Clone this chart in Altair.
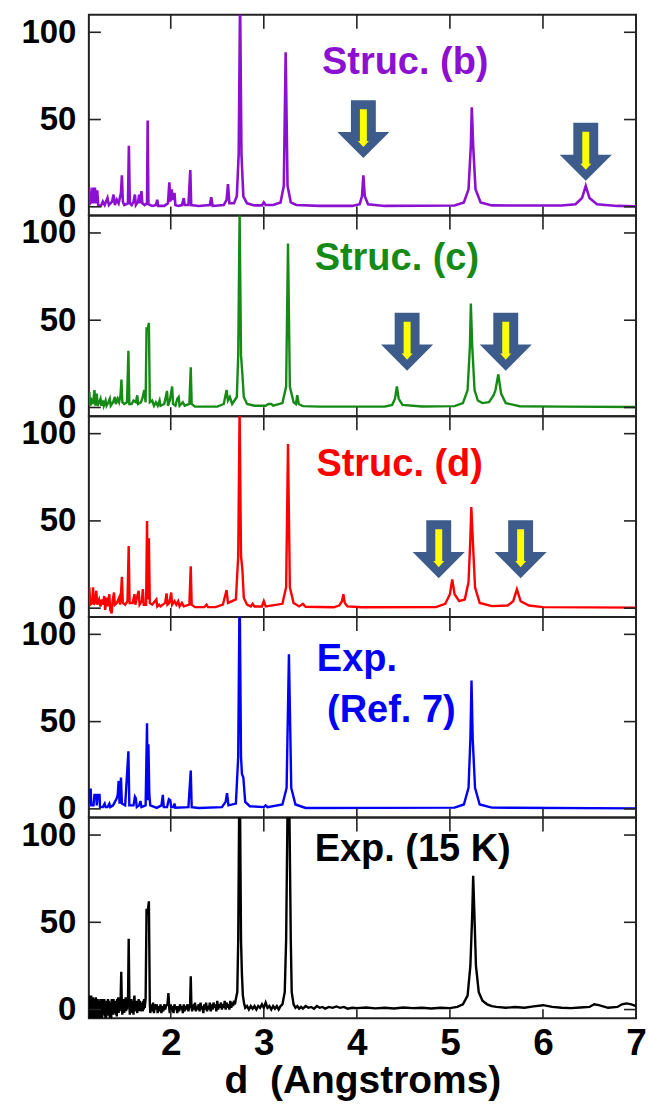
import altair as alt
import pandas as pd

FONT = "Liberation Sans"
W, H = 548, 201
X_DOMAIN = [1.12, 7.0]
Y_DOMAIN = [-5, 110]
X_TICKS = [2, 3, 4, 5, 6]
X_LABELS = [2, 3, 4, 5, 6, 7]
Y_TICKS = [0, 50, 100]

# ---------------- spectra (d in Angstrom, intensity) ----------------
B_PTS = [(1.12,3),(1.125,11),(1.135,2),(1.15,3),(1.16,11),(1.17,2),(1.185,11),(1.195,2),(1.21,9.5),(1.22,1),
 (1.25,0.5),(1.27,3),(1.29,1),(1.32,5),(1.335,1),(1.37,3),(1.385,7),(1.40,1),(1.42,4),(1.44,2),(1.465,8),
 (1.475,18),(1.485,3),(1.50,1),(1.54,2),(1.55,35),(1.56,2),(1.58,1),(1.60,3),(1.615,7),(1.625,1),(1.65,3),
 (1.66,7),(1.67,2),(1.685,9),(1.695,2),(1.72,1),(1.745,2),(1.752,49.5),(1.76,1.5),(1.80,0.5),(1.84,1),
 (1.855,4),(1.865,0.5),(1.93,0.5),(1.97,2),(1.985,14),(1.995,3),(2.01,10),(2.02,4),(2.04,8),(2.05,1),
 (2.08,0.5),(2.12,1),(2.14,5),(2.15,1),(2.19,1),(2.21,21),(2.22,1),(2.30,0.5),(2.42,1),(2.435,5.5),
 (2.45,0.5),(2.57,1),(2.60,4),(2.615,13),(2.63,2),(2.68,2),(2.71,6),(2.73,30),(2.745,118),(2.76,30),
 (2.78,6),(2.82,2),(2.9,0.8),(2.98,0.8),(3.0,2.5),(3.02,1),(3.1,1),(3.18,2.5),(3.215,12),(3.235,88.6),
 (3.255,12),(3.29,2.5),(3.35,1),(3.6,0.5),(3.95,0.5),(4.03,1.5),(4.055,6),(4.07,18),(4.085,6),(4.12,1.5),
 (4.3,0.5),(5.05,0.7),(5.15,2.5),(5.2,10),(5.225,35),(5.235,57),(5.25,35),(5.275,10),(5.33,2.5),
 (5.45,0.8),(6.2,0.7),(6.35,1.5),(6.42,5),(6.46,12),(6.5,5),(6.58,1.5),(6.8,0.5),(7.0,0.3)]

C_PTS = [(1.12,2),(1.125,9),(1.135,1),(1.15,4),(1.165,2),(1.18,10),(1.19,1),(1.205,8),(1.215,1),(1.23,3),
 (1.245,5),(1.255,1),(1.27,4),(1.28,1),(1.30,4),(1.31,1),(1.33,3),(1.345,5),(1.355,1),(1.38,3),(1.40,6),
 (1.41,2),(1.43,5),(1.445,3),(1.46,7),(1.47,16),(1.48,3),(1.50,2),(1.53,3),(1.545,32.5),(1.555,2),(1.58,2),
 (1.60,4),(1.625,3),(1.64,7),(1.65,2),(1.68,3),(1.70,6),(1.715,10),(1.73,3),(1.74,46),(1.75,44),
 (1.765,48.5),(1.775,3),(1.80,4),(1.82,1),(1.84,3),(1.86,1),(1.88,4),(1.89,1),(1.93,2),(1.96,9.5),
 (1.97,1),(1.99,4),(2.015,12),(2.025,2),(2.05,1),(2.07,5),(2.085,6),(2.095,1),(2.13,3),(2.15,1),(2.20,2),
 (2.215,23),(2.225,2),(2.26,0.5),(2.5,0.5),(2.57,2),(2.60,10),(2.615,4),(2.635,6),(2.66,2),(2.71,6),
 (2.725,30),(2.74,112),(2.755,30),(2.77,19),(2.785,6),(2.82,2),(2.9,1),(3.02,1),(3.05,2),(3.08,2),(3.1,1),
 (3.2,2.5),(3.24,12),(3.26,94),(3.28,12),(3.32,3),(3.345,2),(3.36,7),(3.375,2),(3.42,0.8),(3.6,0.5),
 (4.3,0.5),(4.38,1.5),(4.41,5),(4.43,12),(4.45,5),(4.49,1.5),(4.7,0.6),(5.05,0.8),(5.14,2.5),(5.19,10),
 (5.215,35),(5.225,59.6),(5.24,35),(5.265,10),(5.3,4),(5.35,2.5),(5.42,3),(5.47,7),(5.49,10),(5.52,19),
 (5.55,8),(5.6,2.5),(5.75,0.7),(6.2,0.5),(7.0,0.3)]

D_PTS = [(1.12,3),(1.125,12),(1.135,2),(1.155,3),(1.165,12),(1.175,2),(1.19,4),(1.20,10),(1.21,2),(1.23,5),
 (1.245,1),(1.26,5),(1.27,2),(1.285,7),(1.295,-1),(1.31,6),(1.32,1),(1.34,8),(1.35,-1),(1.365,-3),
 (1.375,4),(1.39,9),(1.40,2),(1.42,3),(1.445,6),(1.455,2),(1.465,8),(1.475,18),(1.485,3),(1.51,2),
 (1.535,4),(1.548,35.6),(1.558,3),(1.59,3),(1.61,8),(1.62,2),(1.64,7),(1.655,10),(1.665,2),(1.69,4),
 (1.70,11),(1.71,2),(1.735,2),(1.745,50),(1.755,5),(1.765,40),(1.775,3),(1.80,2),(1.845,5),(1.855,1),
 (1.875,2),(1.89,1),(1.94,3),(1.955,8.5),(1.965,2),(1.985,3),(2.005,9),(2.015,2),(2.04,4),(2.06,2),
 (2.08,4),(2.095,1),(2.12,3),(2.14,1),(2.20,2),(2.215,24),(2.225,2),(2.26,0.6),(2.36,0.6),(2.385,2),
 (2.40,0.6),(2.48,0.6),(2.56,2),(2.60,10.4),(2.615,3),(2.7,5),(2.725,30),(2.74,115),(2.755,30),(2.77,22),
 (2.785,6),(2.82,2),(2.86,1),(2.88,2.5),(2.9,1),(2.98,1),(3.0,4),(3.02,1),(3.2,2.5),(3.24,12),(3.26,94),
 (3.28,12),(3.32,3),(3.38,1),(3.42,2.5),(3.45,0.8),(3.75,0.5),(3.81,1.5),(3.84,4),(3.855,8),(3.87,3),
 (3.9,1),(4.05,0.5),(4.85,0.6),(4.95,2.5),(5.0,8),(5.025,16.5),(5.05,8),(5.1,4),(5.16,5),(5.2,15),
 (5.22,40),(5.23,58),(5.245,40),(5.27,12),(5.32,3),(5.45,1.2),(5.62,1.5),(5.68,4),(5.72,10.8),(5.76,4),
 (5.85,1.5),(6.0,0.6),(7.0,0.3)]

E_PTS = [(1.12,3),(1.125,11),(1.14,11),(1.145,2),(1.17,2),(1.18,8),(1.20,8),(1.205,2),(1.215,8),(1.235,8),
 (1.24,1),(1.27,1),(1.29,3),(1.30,1),(1.32,1),(1.34,3),(1.35,1),(1.38,2),(1.40,4),(1.42,6),(1.43,8),
 (1.44,16),(1.45,3),(1.465,18),(1.475,3),(1.51,2),(1.545,33),(1.555,2),(1.60,2),(1.615,7),(1.625,6),
 (1.635,1),(1.66,2),(1.675,4.5),(1.685,1),(1.73,2),(1.745,49),(1.752,5),(1.76,37),(1.77,8),(1.78,2),
 (1.85,0.6),(1.90,2),(1.915,8),(1.925,1),(1.96,1),(1.98,5.5),(1.995,5),(2.005,1),(2.03,1),(2.04,3),
 (2.05,0.6),(2.19,1),(2.215,22),(2.225,1),(2.3,0.5),(2.55,1),(2.59,4),(2.605,9),(2.62,2),(2.7,3),
 (2.725,30),(2.74,130),(2.755,30),(2.765,20),(2.78,18),(2.80,4),(2.85,1.5),(3.0,1),(3.02,2),(3.04,1),
 (3.2,2.5),(3.245,12),(3.27,88.6),(3.295,12),(3.34,2.5),(3.45,0.5),(5.05,0.7),(5.15,2.5),(5.2,12),
 (5.22,40),(5.232,73.5),(5.245,40),(5.27,12),(5.32,2.5),(5.45,0.7),(7.0,0.3)]

F_PTS = [(1.12,-6),(1.125,8),(1.13,-7),(1.135,6),(1.14,-5),(1.145,8),(1.15,-8),(1.155,5),(1.16,-4),
 (1.165,7),(1.17,-6),(1.175,6),(1.18,-7),(1.185,4),(1.19,-5),(1.195,7),(1.20,-4),(1.205,5),(1.21,-6),
 (1.215,6),(1.22,-3),(1.225,5),(1.23,-7),(1.235,4),(1.24,-4),(1.245,6),(1.25,-5),(1.255,5),(1.26,-5),
 (1.265,6),(1.27,-3),(1.275,4),(1.28,-3),(1.285,6),(1.29,-4),(1.295,5),(1.30,-6),(1.305,3),(1.31,-4),
 (1.315,5),(1.32,-3),(1.325,6),(1.33,-2),(1.335,5),(1.34,-4),(1.345,3),(1.35,-5),(1.355,4),(1.36,-5),
 (1.365,6),(1.37,-3),(1.375,4),(1.38,-3),(1.385,6),(1.39,-2),(1.395,5),(1.40,-2),(1.405,4),(1.41,-3),
 (1.415,5),(1.42,-4),(1.425,6),(1.43,-2),(1.435,7),(1.44,-2),(1.445,5),(1.45,-1),(1.455,6),(1.46,3),
 (1.468,21.6),(1.475,2),(1.48,-3),(1.485,6),(1.49,-1),(1.495,5),(1.50,-2),(1.505,6),(1.51,-1),
 (1.515,7),(1.52,-1),(1.525,5),(1.53,0),(1.535,6),(1.54,2),(1.548,40.5),(1.556,3),(1.56,-3),(1.565,5),
 (1.57,-1),(1.575,6),(1.58,-2),(1.585,5),(1.59,0),(1.595,4),(1.60,-3),(1.605,6),(1.61,8),(1.615,0),
 (1.62,4),(1.625,-1),(1.63,5),(1.635,0),(1.64,-2),(1.645,5),(1.65,0),(1.655,6),(1.66,-1),(1.665,4),
 (1.67,5),(1.675,0),(1.68,3),(1.685,-1),(1.69,4),(1.695,0),(1.70,-1),(1.705,5),(1.71,0),(1.715,6),
 (1.72,1),(1.73,6),(1.74,57.8),(1.75,55),(1.765,62),(1.775,4),(1.78,-2),
 (1.79,3),(1.80,-1),(1.81,4),(1.82,-2),(1.83,3),(1.84,0),(1.85,3),(1.86,-2),(1.87,2),(1.88,-1),(1.89,3),
 (1.90,-2),(1.91,2),(1.92,-1),(1.93,3),(1.94,0),(1.95,2),(1.965,3),(1.975,9.5),(1.985,0),(1.99,-2),
 (2.00,3),(2.01,-1),(2.02,2),(2.03,-2),(2.04,3),(2.05,0),(2.06,2),(2.07,-2),(2.08,2),(2.09,-1),(2.10,3),
 (2.11,0),(2.12,2),(2.13,-2),(2.14,3),(2.15,-1),(2.16,2),(2.17,0),(2.18,3),(2.19,-1),(2.20,2),(2.208,3),
 (2.215,19),(2.222,2),(2.23,-1),(2.24,3),(2.25,0),(2.26,4),(2.27,-1),(2.28,2),(2.29,0),(2.30,3),(2.31,-1),
 (2.32,4),(2.33,0),(2.34,2),(2.35,-2),(2.36,3),(2.37,0),(2.38,4),(2.39,-1),(2.40,2),(2.41,0),(2.42,4),
 (2.43,-1),(2.44,3),(2.45,0),(2.46,4),(2.47,1),(2.48,3),(2.49,-1),(2.50,5),(2.51,0),(2.52,3),(2.53,1),
 (2.54,4),(2.55,0),(2.56,3),(2.57,1),(2.58,5),(2.59,0),(2.60,4),(2.61,1),(2.62,3),(2.63,0),(2.64,5),
 (2.65,1),(2.66,4),(2.67,2),(2.68,5),(2.69,3),(2.70,6),(2.715,10),(2.725,40),(2.735,115),(2.745,115),
 (2.755,40),(2.765,20),(2.775,8),(2.79,3),(2.80,1),(2.82,2),(2.84,0),(2.86,2),(2.88,0.5),(2.90,2),
 (2.92,0),(2.94,2),(2.96,1),(2.98,3),(3.00,1),(3.02,4),(3.04,1),(3.06,2),(3.08,0),(3.10,2),(3.12,0.5),
 (3.14,2),(3.16,0),(3.18,2),(3.20,3),(3.225,10),(3.24,40),(3.255,115),(3.275,115),(3.29,40),(3.30,10),
 (3.32,3),(3.34,1),(3.36,2),(3.38,0.5),(3.40,1.5),(3.42,0.5),(3.45,2),(3.48,1),(3.51,1.5),(3.54,0.5),
 (3.57,2),(3.60,1),(3.63,1.5),(3.66,0.5),(3.70,1.5),(3.74,1),(3.78,1.8),(3.82,1),(3.86,1.5),(3.90,0.5),
 (3.95,1),(4.00,0.8),(4.1,1.2),(4.2,0.7),(4.3,1),(4.4,0.6),(4.5,1.2),(4.6,0.8),(4.7,1),(4.8,0.6),(4.9,1),
 (5.0,0.8),(5.08,1.5),(5.14,3),(5.19,8),(5.22,25),(5.24,55),(5.25,76.7),(5.26,60),(5.28,25),(5.31,10),
 (5.35,5),(5.4,3),(5.45,2),(5.5,1.5),(5.6,1),(5.7,1.5),(5.8,1),(5.9,1.8),(6.0,2.5),(6.1,1.5),(6.2,1),
 (6.3,0.8),(6.4,1.2),(6.5,1.5),(6.55,3),(6.6,2.5),(6.7,1),(6.8,1.5),(6.85,3),(6.9,3.5),(6.95,3),(7.0,2)]

# ---------------- panel labels (d, intensity, text) ----------------
B_TEXT = [(4.52, 76, "Struc. (b)")]
C_TEXT = [(4.43, 79, "Struc. (c)")]
D_TEXT = [(4.46, 76, "Struc. (d)")]
E_TEXT = [(3.57, 79, "Exp."), (3.68, 50, "(Ref. 7)")]
F_TEXT = [(4.60, 85, "Exp. (15 K)")]

# ---------------- arrow positions (d, intensity) ----------------
B_ARROWS = [(4.07, 44.5), (6.46, 31.5)]
C_ARROWS = [(4.54, 37.7), (5.60, 37.7)]
D_ARROWS = [(4.88, 33.8), (5.76, 33.8)]

COLORS = ["#8C10D0", "#168A16", "#FF0000", "#0000F5", "#000000"]
WIDTHS = [2.6, 2.4, 2.4, 2.4, 2.4]

ARROW_PATH = "M-0.43,-1L0.43,-1L0.43,0.1L0.9,0.1L0,1L-0.9,0.1L-0.43,0.1Z"
INNER_PATH = "M-0.12,-0.69L0.12,-0.69L0.12,0.41L0.19,0.41L0,0.62L-0.19,0.41L-0.12,0.41Z"

xs = alt.Scale(domain=X_DOMAIN, nice=False, zero=False)
ys = alt.Scale(domain=Y_DOMAIN, nice=False, zero=False)


def panel(pts, color, sw, texts, arrows, bottom, text_align="center"):
    df = pd.DataFrame(pts, columns=["d", "I"])
    if bottom:
        xaxis = alt.Axis(values=X_LABELS, title="d\u00a0\u00a0(Angstroms)", labelFontSize=37,
                         titleFontSize=39, labelPadding=7, titlePadding=0, labelFlush=False,
                         ticks=False, domain=False, grid=False, format="d")
    else:
        xaxis = alt.Axis(values=X_LABELS, title=None, labels=False, ticks=False,
                         domain=False, grid=False)
    yaxis = alt.Axis(values=Y_TICKS, title=None, labelFontSize=33, labelPadding=13,
                     ticks=False, domain=False, grid=False, format="d")

    def X(f):
        return alt.X(f, scale=xs, axis=xaxis)

    def Y(f):
        return alt.Y(f, scale=ys, axis=yaxis)

    layers = []
    layers.append(alt.Chart(df).mark_line(color=color, strokeWidth=sw, clip=True).encode(
        x=X("d:Q"), y=Y("I:Q")))
    xt = pd.DataFrame({"d": X_TICKS})
    yt = pd.DataFrame({"I": Y_TICKS})
    tick = dict(color="#222222", strokeWidth=1.6)
    layers.append(alt.Chart(xt).mark_rule(**tick).encode(
        x=X("d:Q"), y=alt.value(0), y2=alt.value(14)))
    layers.append(alt.Chart(xt).mark_rule(**tick).encode(
        x=X("d:Q"), y=alt.value(H - 9), y2=alt.value(H)))
    layers.append(alt.Chart(yt).mark_rule(**tick).encode(
        y=Y("I:Q"), x=alt.value(0), x2=alt.value(12)))
    layers.append(alt.Chart(yt).mark_rule(**tick).encode(
        y=Y("I:Q"), x=alt.value(W - 12), x2=alt.value(W)))
    tdf = pd.DataFrame(texts, columns=["d", "I", "label"])
    layers.append(alt.Chart(tdf).mark_text(font=FONT, fontSize=38, fontWeight="bold",
                                           align=text_align, baseline="alphabetic", color=color).encode(
        x=X("d:Q"), y=Y("I:Q"), text="label:N"))
    if arrows:
        adf = pd.DataFrame(arrows, columns=["d", "I"])
        layers.append(alt.Chart(adf).mark_point(shape=ARROW_PATH, size=3364, filled=True,
                                                color="#3D5C8B", opacity=1, strokeWidth=0).encode(
            x=X("d:Q"), y=Y("I:Q")))
        layers.append(alt.Chart(adf).mark_point(shape=INNER_PATH, size=3364, filled=True,
                                                color="#FFFF00", opacity=1, strokeWidth=0).encode(
            x=X("d:Q"), y=Y("I:Q")))
    return alt.layer(*layers).properties(width=W, height=H)


panels = [
    panel(B_PTS, COLORS[0], WIDTHS[0], B_TEXT, B_ARROWS, False),
    panel(C_PTS, COLORS[1], WIDTHS[1], C_TEXT, C_ARROWS, False),
    panel(D_PTS, COLORS[2], WIDTHS[2], D_TEXT, D_ARROWS, False),
    panel(E_PTS, COLORS[3], WIDTHS[3], E_TEXT, None, False, text_align="left"),
    panel(F_PTS, COLORS[4], WIDTHS[4], F_TEXT, None, True),
]

chart = alt.vconcat(*panels, spacing=0, bounds="flush").properties(
    padding={"left": 19, "top": 12, "right": 0, "bottom": 1}, background="white"
).configure_view(stroke="#222222", strokeWidth=2).configure_axis(
    labelFont=FONT, labelFontWeight="bold", labelColor="black",
    titleFont=FONT, titleFontWeight="bold", titleColor="black"
)

chart.save("out.html", embed_options={"renderer": "svg", "actions": False})
